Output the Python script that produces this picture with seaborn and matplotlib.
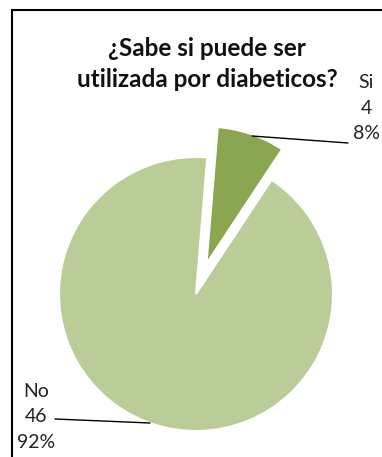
import matplotlib
matplotlib.use("Agg")
import matplotlib.pyplot as plt
import seaborn as sns
from matplotlib.lines import Line2D

categories = ["Si", "No"]
counts = [4, 46]
percents = ["8%", "92%"]
title = "¿Sabe si puede ser\nutilizada por diabeticos?"
colors = ["#8BA650", "#BACD98"]

sns.set_theme(style="white")
plt.rcParams['font.family'] = ['Lato', 'DejaVu Sans']

W, H = 382, 457
fig = plt.figure(figsize=(W / 100, H / 100), dpi=100)
ax = fig.add_axes([0, 0, 1, 1])

R = 137.0
cx, cy = 196.0, 294.0

ax.pie(counts, colors=colors, startangle=85.3, counterclock=False,
       explode=[0.235, 0], radius=1.0, center=(0, 0),
       wedgeprops=dict(edgecolor="white", linewidth=1.5))
ax.set_axis_off()
ax.set_xlim(-cx / R, (W - cx) / R)
ax.set_ylim(-(H - cy) / R, cy / R)
ax.set_aspect("auto")

def fx(px):
    return px / W

def fy(py):
    return 1 - py / H

fig.text(fx(207), fy(64), title, ha="center", va="center", fontsize=17.5,
         fontweight="bold", color="#111111", linespacing=1.38)

lbl_si = f"{categories[0]}\n{counts[0]}\n{percents[0]}"
lbl_no = f"{categories[1]}\n{counts[1]}\n{percents[1]}"
fig.text(fx(366), fy(108), lbl_si, ha="center", va="center", fontsize=14,
         color="#222222", linespacing=1.62)
fig.text(fx(36), fy(417), lbl_no, ha="center", va="center", fontsize=14,
         color="#222222", linespacing=1.62)

fig.add_artist(Line2D([fx(252), fx(348)], [fy(136), fy(143)], color="black", lw=1))
fig.add_artist(Line2D([fx(55), fx(150)], [fy(419), fy(423)], color="black", lw=1))

# chart frame (left and top edges visible)
fig.add_artist(Line2D([fx(12), fx(12)], [fy(10), 0], color="black", lw=1.5))
fig.add_artist(Line2D([fx(12), 1], [fy(10), fy(10)], color="black", lw=1.5))

fig.savefig("out.png", dpi=100)
